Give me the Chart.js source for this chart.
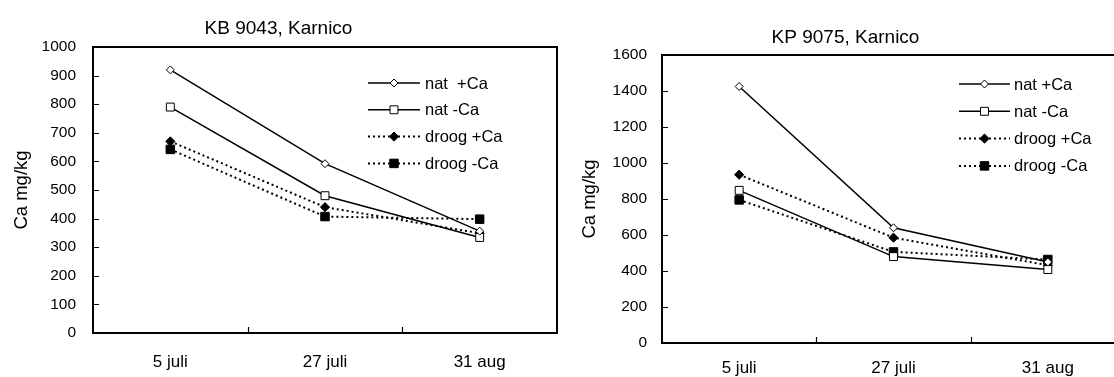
<!DOCTYPE html>
<html>
<head>
<meta charset="utf-8">
<script src="https://cdn.jsdelivr.net/npm/chart.js@4/dist/chart.umd.min.js"></script>
<style>
html,body{margin:0;padding:0;width:1114px;height:377px;overflow:hidden;background:#fff;}
canvas{position:absolute;top:0;}
#c1{left:0;}
#c2{left:566px;}
</style>
</head>
<body>
<canvas id="c1" width="629" height="377"></canvas>
<canvas id="c2" width="582" height="377"></canvas>
<script>
// ---- data ----
const categories = ['5 juli', '27 juli', '31 aug'];

const kbTitle = 'KB 9043, Karnico';
const kbSeriesNames = ['nat  +Ca', 'nat -Ca', 'droog +Ca', 'droog -Ca'];
const kbNatPlus   = [920, 592, 356];
const kbNatMin    = [790, 480, 334];
const kbDroogPlus = [670, 440, 349];
const kbDroogMin  = [642, 407, 398];
const kbTicks = {min: 0, max: 1000, step: 100};

const kpTitle = 'KP 9075, Karnico';
const kpSeriesNames = ['nat +Ca', 'nat -Ca', 'droog +Ca', 'droog -Ca'];
const kpNatPlus   = [1425, 640, 450];
const kpNatMin    = [848, 480, 408];
const kpDroogPlus = [935, 585, 432];
const kpDroogMin  = [795, 506, 464];
const kpTicks = {min: 0, max: 1600, step: 200};

const yTitle = 'Ca mg/kg';

// ---- styles ----
const FONT = "'Liberation Sans', Arial, sans-serif";
const seriesStyles = [
  {pointStyle: 'rectRot', radius: 4,   fill: '#ffffff', dash: [],     width: 1.5},
  {pointStyle: 'rect',    radius: 5.6, fill: '#ffffff', dash: [],     width: 1.5},
  {pointStyle: 'rectRot', radius: 4.6, fill: '#000000', dash: [2, 3], width: 2},
  {pointStyle: 'rect',    radius: 6,   fill: '#000000', dash: [2, 3], width: 2}
];

function makeDatasets(names, values) {
  return names.map((n, i) => ({
    label: n,
    data: values[i],
    borderColor: '#000',
    borderWidth: seriesStyles[i].width,
    borderDash: seriesStyles[i].dash,
    pointStyle: seriesStyles[i].pointStyle,
    pointRadius: seriesStyles[i].radius,
    pointHoverRadius: seriesStyles[i].radius,
    pointBackgroundColor: seriesStyles[i].fill,
    pointBorderColor: '#000',
    pointBorderWidth: 1,
    fill: false,
    tension: 0
  }));
}

// frame, inward ticks and in-plot legend
const framePlugin = {
  id: 'frame',
  afterDraw(chart, args, opts) {
    const ctx = chart.ctx;
    const a = chart.chartArea;
    const xs = chart.scales.x, ys = chart.scales.y;
    ctx.save();
    ctx.strokeStyle = '#000';
    ctx.lineWidth = 2;
    ctx.setLineDash([]);
    ctx.strokeRect(Math.round(a.left), Math.round(a.top), Math.round(a.right - a.left), Math.round(a.bottom - a.top));
    ctx.lineWidth = 1.2;
    ctx.beginPath();
    ys.ticks.forEach((t, i) => {
      const y = Math.round(ys.getPixelForTick(i)) + 0.5;
      ctx.moveTo(a.left, y); ctx.lineTo(a.left + 6, y);
    });
    for (let i = 1; i < xs.ticks.length; i++) {
      const x = Math.round((xs.getPixelForTick(i - 1) + xs.getPixelForTick(i)) / 2) + 0.5;
      ctx.moveTo(x, a.bottom); ctx.lineTo(x, a.bottom - 6);
    }
    ctx.stroke();

    // legend
    const lg = opts.legend;
    chart.data.datasets.forEach((ds, i) => {
      const y = lg.y + i * lg.dy;
      const x1 = lg.x, x2 = lg.x + lg.len, xm = (x1 + x2) / 2;
      ctx.strokeStyle = '#000';
      ctx.lineWidth = ds.borderWidth;
      ctx.setLineDash(ds.borderDash);
      ctx.beginPath();
      ctx.moveTo(x1, y); ctx.lineTo(x2, y);
      ctx.stroke();
      ctx.setLineDash([]);
      ctx.fillStyle = ds.pointBackgroundColor;
      ctx.strokeStyle = '#000';
      ctx.lineWidth = 1;
      Chart.helpers.drawPoint(ctx, {pointStyle: ds.pointStyle, radius: ds.pointRadius, borderWidth: 1, rotation: 0}, xm, y);
      ctx.fillStyle = '#000';
      ctx.font = '16.5px ' + FONT;
      ctx.textBaseline = 'middle';
      ctx.textAlign = 'left';
      ctx.fillText(ds.label, x2 + lg.gap, y + 1);
    });
    ctx.restore();
  }
};

function makeChart(id, cfg) {
  return new Chart(document.getElementById(id), {
    type: 'line',
    data: {labels: categories, datasets: makeDatasets(cfg.names, cfg.values)},
    plugins: [framePlugin],
    options: {
      responsive: false,
      animation: false,
      devicePixelRatio: 1,
      layout: {padding: {left: 0, right: cfg.padRight, top: 0, bottom: 0}},
      plugins: {
        legend: {display: false},
        tooltip: {enabled: false},
        title: {
          display: true,
          text: cfg.title,
          color: '#000',
          font: {family: FONT, size: 19, weight: 'normal'},
          padding: {top: cfg.titleTop, bottom: cfg.titleBottom}
        },
        frame: {legend: cfg.legend}
      },
      scales: {
        x: {
          offset: true,
          grid: {display: false, drawTicks: false},
          border: {display: false},
          ticks: {color: '#000', font: {family: FONT, size: 17}, padding: cfg.xPad, maxRotation: 0},
          afterFit: s => { s.height = cfg.xHeight; }
        },
        y: {
          min: cfg.ticks.min, max: cfg.ticks.max,
          grid: {display: false, drawTicks: false},
          border: {display: false},
          ticks: {
            stepSize: cfg.ticks.step, color: '#000',
            font: {family: FONT, size: 15.5}, padding: cfg.yPad,
            callback: v => String(v)
          },
          title: {display: true, text: yTitle, color: '#000', font: {family: FONT, size: 18.5}, padding: {top: cfg.yTitlePad, bottom: 0}},
          afterFit: s => { s.width = cfg.yWidth; }
        }
      }
    }
  });
}

makeChart('c1', {
  title: kbTitle, names: kbSeriesNames,
  values: [kbNatPlus, kbNatMin, kbDroogPlus, kbDroogMin],
  ticks: kbTicks, padRight: 72, titleTop: 17, titleBottom: 7.2,
  xPad: 19, xHeight: 44, yPad: 17, yWidth: 93, yTitlePad: 11,
  legend: {x: 368, len: 52, gap: 5, y: 83, dy: 26.8}
});

makeChart('c2', {
  title: kpTitle, names: kpSeriesNames,
  values: [kpNatPlus, kpNatMin, kpDroogPlus, kpDroogMin],
  ticks: kpTicks, padRight: 23, titleTop: 26, titleBottom: 6.2,
  xPad: 15, xHeight: 34, yPad: 15, yWidth: 96, yTitlePad: 13,
  legend: {x: 393, len: 51, gap: 4, y: 84, dy: 27.3}
});
</script>
</body>
</html>
